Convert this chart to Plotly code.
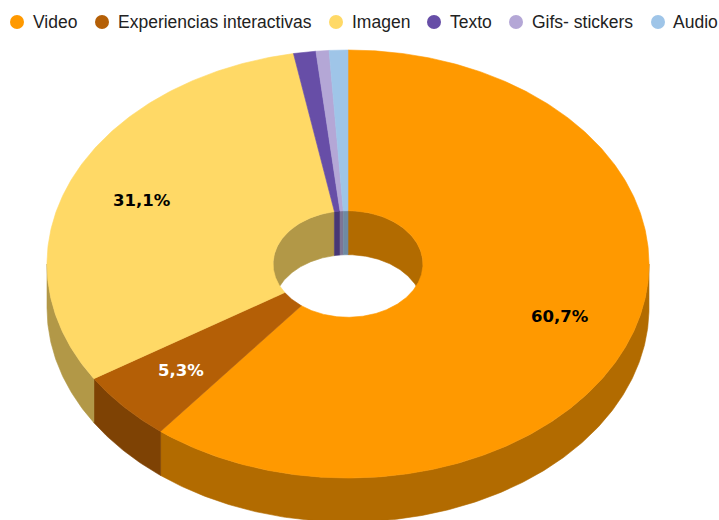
import numpy as np
import plotly.graph_objects as go

# Share of content formats
categories = ["Video", "Experiencias interactivas", "Imagen", "Texto", "Gifs- stickers", "Audio"]
values = [60.7, 5.3, 31.1, 1.2, 0.7, 1.0]
colors = ["#FF9900", "#B45F06", "#FFD966", "#674EA7", "#B4A7D6", "#9FC5E8"]
label_colors = ["#000000", "#FFFFFF", "#000000"]

# Pixel-based layout of the tilted ring
WIDTH, HEIGHT = 719, 520
CX, CY = 348, 264
RX, RY = 301, 214
HOLE = 0.249
DEPTH = 44
LABEL_RADIUS = 0.745
LABEL_MIN = 5

# Legend placement: marker centre and text start per entry
LEGEND_Y = 22
legend_marker_x = [17, 102, 336, 434, 516, 658]
legend_text_x = [31, 116, 350, 448, 530, 671]


def shade(hex_color, k=0.7):
    r, g, b = (int(hex_color[i:i + 2], 16) for i in (1, 3, 5))
    return f"rgb({r * k:.0f},{g * k:.0f},{b * k:.0f})"


def arc(a0, a1, scale, dy=0.0):
    """Points along an elliptical arc; angles run clockwise from 12 o'clock."""
    n = max(2, int(abs(a1 - a0) / 0.01))
    t = np.linspace(a0, a1, n)
    return CX + RX * scale * np.sin(t), CY - RY * scale * np.cos(t) + dy


def add_poly(fig, xs, ys, color, name):
    fig.add_trace(go.Scatter(
        x=xs, y=ys, mode="lines", fill="toself", fillcolor=color,
        line=dict(color=color, width=0.6), name=name,
        hoverinfo="name", showlegend=False,
    ))


def wall(fig, a0, a1, scale, color, name):
    """Vertical wall between the top rim and the same rim shifted down."""
    x0, y0 = arc(a0, a1, scale)
    x1, y1 = arc(a1, a0, scale, DEPTH)
    add_poly(fig, np.r_[x0, x1, x0[0]], np.r_[y0, y1, y0[0]], color, name)


fig = go.Figure()
total = sum(values)
edges = np.r_[0, np.cumsum(values)] / total * 2 * np.pi

# Inner wall: only the far half of the hole can be seen
for i, name in enumerate(categories):
    for lo, hi in ((-np.pi / 2, np.pi / 2), (3 * np.pi / 2, 5 * np.pi / 2)):
        a0, a1 = max(edges[i], lo), min(edges[i + 1], hi)
        if a1 > a0:
            wall(fig, a0, a1, HOLE, shade(colors[i]), name)

# Outer wall: only the near half is visible
for i, name in enumerate(categories):
    a0, a1 = max(edges[i], np.pi / 2), min(edges[i + 1], 3 * np.pi / 2)
    if a1 > a0:
        wall(fig, a0, a1, 1.0, shade(colors[i]), name)

# Top face of the ring
for i, name in enumerate(categories):
    xo, yo = arc(edges[i], edges[i + 1], 1.0)
    xi, yi = arc(edges[i + 1], edges[i], HOLE)
    add_poly(fig, np.r_[xo, xi, xo[0]], np.r_[yo, yi, yo[0]], colors[i], name)

# Percentage labels on the larger slices
annotations = []
for i, v in enumerate(values):
    if v < LABEL_MIN:
        continue
    mid = (edges[i] + edges[i + 1]) / 2
    annotations.append(dict(
        x=CX + RX * LABEL_RADIUS * np.sin(mid),
        y=CY - RY * LABEL_RADIUS * np.cos(mid),
        text=f"<b>{v:.1f}%</b>".replace(".", ","),
        showarrow=False,
        font=dict(family="DejaVu Sans", size=16.5, color=label_colors[i]),
    ))

# Legend row
fig.add_trace(go.Scatter(
    x=legend_marker_x, y=[LEGEND_Y] * len(categories), mode="markers",
    marker=dict(size=14, color=colors, line=dict(width=0)),
    hoverinfo="skip", showlegend=False,
))
for name, tx in zip(categories, legend_text_x):
    annotations.append(dict(
        x=tx, y=LEGEND_Y, text=name, showarrow=False, xanchor="left",
        font=dict(family="Liberation Sans", size=17.5, color="#222222"),
    ))

fig.update_layout(
    width=WIDTH, height=HEIGHT,
    margin=dict(l=0, r=0, t=0, b=0),
    paper_bgcolor="white", plot_bgcolor="white",
    xaxis=dict(range=[0, WIDTH], visible=False, fixedrange=True),
    yaxis=dict(range=[HEIGHT, 0], visible=False, fixedrange=True),
    annotations=annotations,
    showlegend=False,
)
fig.write_html("out.html", config=dict(displayModeBar=False))
